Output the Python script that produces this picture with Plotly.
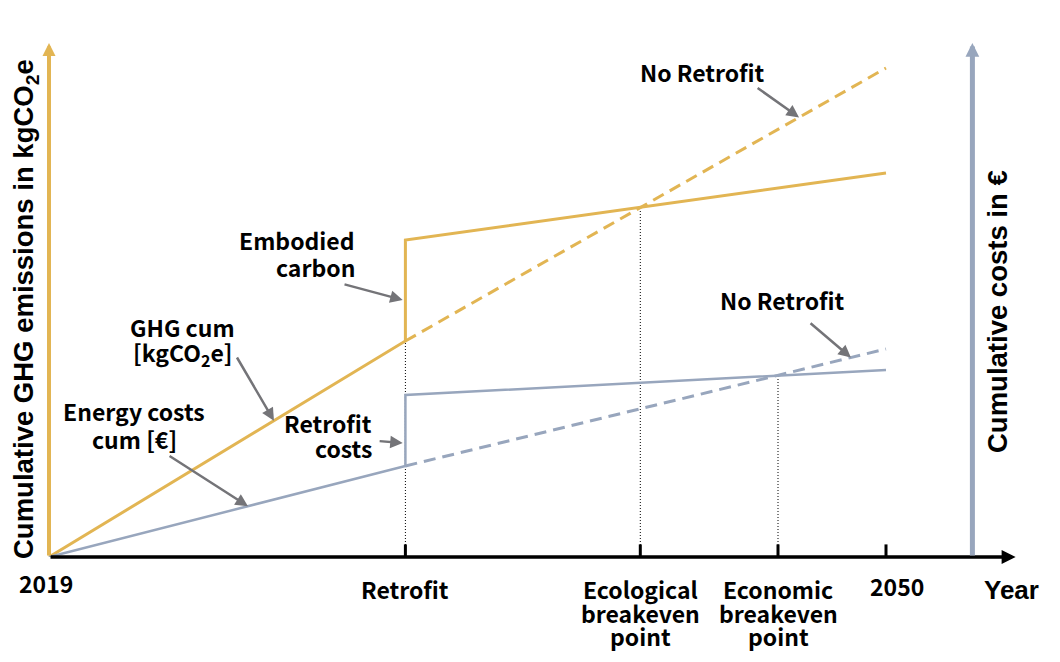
import numpy as np
import plotly.graph_objects as go

# key moments on the (conceptual) time axis
year_start = 2019
year_retrofit = 2032.2
year_ecological = 2040.9
year_economic = 2046.0
year_end = 2050

# cumulative GHG emissions (arbitrary units)
ghg_before = [0, 216]          # 2019 -> retrofit
ghg_retrofit = [317, 384]      # after embodied carbon -> 2050
ghg_no_retrofit = [216, 489]   # retrofit -> 2050, no retrofit

# cumulative costs (arbitrary units)
cost_before = [0, 91]
cost_retrofit = [162, 187]
cost_no_retrofit = [91, 208]

tick_years = [year_retrofit, year_ecological, year_economic, year_end]
tick_labels = [["Retrofit"], ["Ecological", "breakeven", "point"],
               ["Economic", "breakeven", "point"], ["2050"]]

gold = "#E2B553"
blue = "#98A6BD"
grey = "#747478"
font = "Noto Sans CJK JP"
title_font = "Liberation Sans"

# axis extent (years / value units)
x_axis_end = 2054.8
y_axis_end = 514
right_axis_year = 2053.2

# view window (page has an 8px body margin)
px_per_year = 27
x_range = [year_start - 41 / px_per_year, year_start + 1019 / px_per_year]
y_range = [0, 549]

seg = [year_retrofit, year_end]
eco_h = np.interp(year_ecological, seg, ghg_retrofit)
econ_h = np.interp(year_economic, seg, cost_retrofit)

fig = go.Figure()

# dotted guides down to the time axis
fig.add_trace(go.Scatter(
    x=[year_retrofit, year_retrofit, None, year_ecological, year_ecological, None,
       year_economic, year_economic],
    y=[0, ghg_before[1], None, 0, eco_h, None, 0, econ_h],
    mode="lines", line=dict(color="black", width=1, dash="1px,2px")))

# retrofit scenario (solid) and no-retrofit scenario (dashed)
fig.add_trace(go.Scatter(x=[year_start, year_retrofit, year_retrofit, year_end],
                         y=ghg_before + ghg_retrofit, mode="lines",
                         line=dict(color=gold, width=3)))
fig.add_trace(go.Scatter(x=seg, y=ghg_no_retrofit, mode="lines",
                         line=dict(color=gold, width=3, dash="12px,7px")))
fig.add_trace(go.Scatter(x=[year_start, year_retrofit, year_retrofit, year_end],
                         y=cost_before + cost_retrofit, mode="lines",
                         line=dict(color=blue, width=2.5)))
fig.add_trace(go.Scatter(x=seg, y=cost_no_retrofit, mode="lines",
                         line=dict(color=blue, width=3, dash="12px,7px")))

# tick marks crossing the time axis
fig.add_trace(go.Scatter(x=tick_years, y=[0] * len(tick_years), mode="markers",
                         marker=dict(symbol="line-ns", size=18,
                                     line=dict(color="black", width=3))))

annotations = []

# axes drawn as arrows
axis_arrows = [
    (x_axis_end, 0, year_start, 0, "black", 3.5, 0.8),
    (year_start, y_axis_end, year_start, 0, gold, 4, 0.65),
    (right_axis_year, y_axis_end, right_axis_year, 0, blue, 5, 0.55),
]
for x, y, ax, ay, c, w, s in axis_arrows:
    annotations.append(dict(x=x, y=y, ax=ax, ay=ay, xref="x", yref="y",
                            axref="x", ayref="y", text="", showarrow=True,
                            arrowhead=2, arrowwidth=w, arrowsize=s, arrowcolor=c))

# callout arrows (tail -> head)
callouts = [
    (2045.19, 470, 2046.78, np.interp(2046.78, seg, ghg_no_retrofit)),
    (2029.89, 273, 2032.1, 257),
    (2025.93, 201, 2027.33, np.interp(2027.33, [year_start, year_retrofit], ghg_before)),
    (2023.41, 102, 2026.37, np.interp(2026.37, [year_start, year_retrofit], cost_before)),
    (2031.19, 116, 2032.1, 114),
    (2047.15, 235, 2048.7, np.interp(2048.7, seg, cost_no_retrofit)),
]
for ax, ay, x, y in callouts:
    annotations.append(dict(x=x, y=y, ax=ax, ay=ay, xref="x", yref="y",
                            axref="x", ayref="y", text="", showarrow=True,
                            arrowhead=2, arrowwidth=2.5, arrowsize=1, arrowcolor=grey))

# callout texts, one annotation per line: (text, x, y, anchor)
labels = [
    ("No Retrofit", 2043.22, 485, "center"),
    ("Embodied", 2030.4, 317, "right"),
    ("carbon", 2030.4, 290, "right"),
    ("GHG cum", 2023.96, 230, "center"),
    ("[kgCO<sub>2</sub>e]", 2023.96, 204, "center"),
    ("Energy costs", 2022.15, 146, "center"),
    ("cum [€]", 2022.15, 118, "center"),
    ("Retrofit", 2031.04, 134, "right"),
    ("costs", 2031.04, 109, "right"),
    ("No Retrofit", 2046.15, 257, "center"),
]
for t, x, y, anchor in labels:
    annotations.append(dict(x=x, y=y, xref="x", yref="y", text="<b>%s</b>" % t,
                            showarrow=False, xanchor=anchor, yanchor="middle",
                            font=dict(family=font, size=23, color="black")))

# time axis labels, below the axis line
line_offsets = [-32, -56, -79]
for lines, x in zip(tick_labels, tick_years):
    for line, dy in zip(lines, line_offsets):
        if x == year_end:
            shift, dy = 11, -29
        else:
            shift = 0
        annotations.append(dict(x=x, y=0, xref="x", yref="paper", text="<b>%s</b>" % line,
                                showarrow=False, xshift=shift, yshift=dy,
                                xanchor="center", yanchor="middle",
                                font=dict(family=font, size=23, color="black")))
annotations.append(dict(x=year_start, y=0, xref="x", yref="paper", text="<b>2019</b>",
                        showarrow=False, xshift=-3, yshift=-26,
                        xanchor="center", yanchor="middle",
                        font=dict(family=font, size=23, color="black")))
annotations.append(dict(x=2054.63, y=0, xref="x", yref="paper", text="<b>Year</b>",
                        showarrow=False, yshift=-33, xanchor="center", yanchor="middle",
                        font=dict(family=title_font, size=26, color="black")))

# axis titles
annotations.append(dict(x=17 / 1060, y=248, xref="paper", yref="y", textangle=-90,
                        xanchor="center", yanchor="middle",
                        text="<b>Cumulative GHG emissions in kgCO<sub>2</sub>e</b>",
                        showarrow=False, font=dict(family=title_font, size=27.5, color="black")))
annotations.append(dict(x=989 / 1060, y=245, xref="paper", yref="y", textangle=-90,
                        xanchor="center", yanchor="middle",
                        text="<b>Cumulative costs in €</b>",
                        showarrow=False, font=dict(family=title_font, size=27.5, color="black")))

fig.update_layout(
    width=1060, height=662,
    margin=dict(l=0, r=0, t=0, b=113),
    paper_bgcolor="white", plot_bgcolor="white",
    showlegend=False,
    xaxis=dict(range=x_range, visible=False),
    yaxis=dict(range=y_range, visible=False),
    annotations=annotations,
)

fig.write_html("out.html")
